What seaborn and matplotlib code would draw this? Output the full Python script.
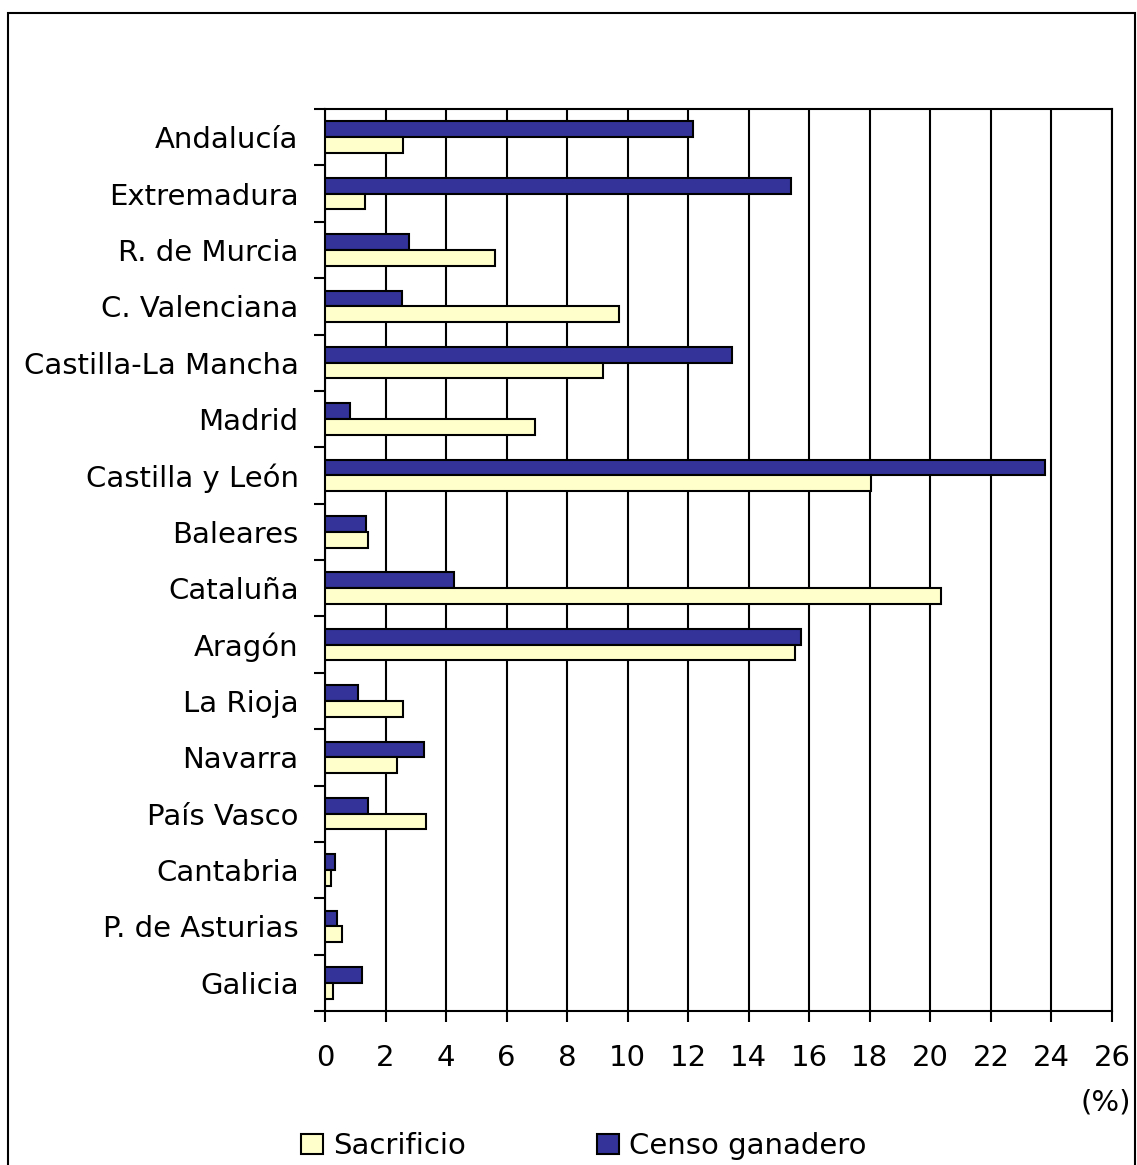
import pandas as pd
import seaborn as sns
import matplotlib.pyplot as plt
from matplotlib.patches import Patch, Rectangle

# datos (%)
regiones = ['Andalucía', 'Extremadura', 'R. de Murcia', 'C. Valenciana',
            'Castilla-La Mancha', 'Madrid', 'Castilla y León', 'Baleares',
            'Cataluña', 'Aragón', 'La Rioja', 'Navarra', 'País Vasco',
            'Cantabria', 'P. de Asturias', 'Galicia']
censo = [12.15, 15.4, 2.78, 2.56, 13.45, 0.83, 23.78, 1.36,
         4.25, 15.71, 1.08, 3.26, 1.41, 0.34, 0.38, 1.22]
sacrificio = [2.58, 1.31, 5.61, 9.70, 9.19, 6.95, 18.03, 1.41,
              20.35, 15.54, 2.58, 2.37, 3.34, 0.21, 0.56, 0.26]
series = ['Censo ganadero', 'Sacrificio']
colores = {'Censo ganadero': '#333399', 'Sacrificio': '#FFFFCC'}
ticks_x = list(range(0, 27, 2))

df = pd.DataFrame({'region': regiones * 2,
                   'valor': censo + sacrificio,
                   'serie': [series[0]] * 16 + [series[1]] * 16})

sns.set_style('white')
plt.rcParams['font.family'] = ['DejaVu Sans']
plt.rcParams['text.color'] = 'black'
plt.rcParams['xtick.color'] = 'black'
plt.rcParams['ytick.color'] = 'black'

fs = 21

fig = plt.figure(figsize=(11.37, 11.65), dpi=100)
ax = fig.add_axes([325 / 1137, 1 - 1011 / 1165, (1112 - 325) / 1137, (1011 - 109) / 1165])

sns.barplot(data=df, x='valor', y='region', hue='serie', hue_order=series,
            palette=colores, saturation=1, orient='h', width=0.56, gap=0,
            edgecolor='black', linewidth=1.5, legend=False, ax=ax, zorder=3)

ax.set_xlim(0, 26)
ax.set_ylim(15.5, -0.5)
ax.set_xticks(ticks_x)
ax.set_xticklabels([str(t) for t in ticks_x], fontsize=fs)
ax.set_yticks(range(16))
ax.set_yticklabels(regiones, fontsize=fs)
ax.set_yticks([i - 0.5 for i in range(17)], minor=True)
ax.tick_params(axis='y', which='major', length=0, pad=19)
ax.tick_params(axis='y', which='minor', length=8, width=1.5, color='black', left=True)
ax.tick_params(axis='x', length=8, width=1.5, color='black', pad=16, bottom=True)
ax.set_xlabel('')
ax.set_ylabel('')
ax.grid(axis='x', color='black', linewidth=1.5, zorder=0)
ax.set_axisbelow(True)
for s in ax.spines.values():
    s.set_color('black')
    s.set_linewidth(1.5)

fig.text(1131 / 1137, 1 - 1103 / 1165, '(%)', fontsize=fs, ha='right', va='center')

handles = [Patch(facecolor=colores['Sacrificio'], edgecolor='black', linewidth=1.5, label='Sacrificio'),
           Patch(facecolor=colores['Censo ganadero'], edgecolor='black', linewidth=1.5, label='Censo ganadero')]
fig.legend(handles=handles, loc='center left', bbox_to_anchor=(301 / 1137, 1 - 1146 / 1165),
           ncol=2, frameon=False, fontsize=fs, handlelength=0.75, handleheight=0.7,
           handletextpad=0.35, columnspacing=4.5, borderaxespad=0, borderpad=0)

# marco exterior
fig.patches.append(Rectangle((8 / 1137, -0.05), 1127 / 1137, 1 - 13 / 1165 + 0.05,
                             transform=fig.transFigure, fill=False,
                             edgecolor='black', linewidth=1.5))

fig.savefig('out.png', dpi=100)
